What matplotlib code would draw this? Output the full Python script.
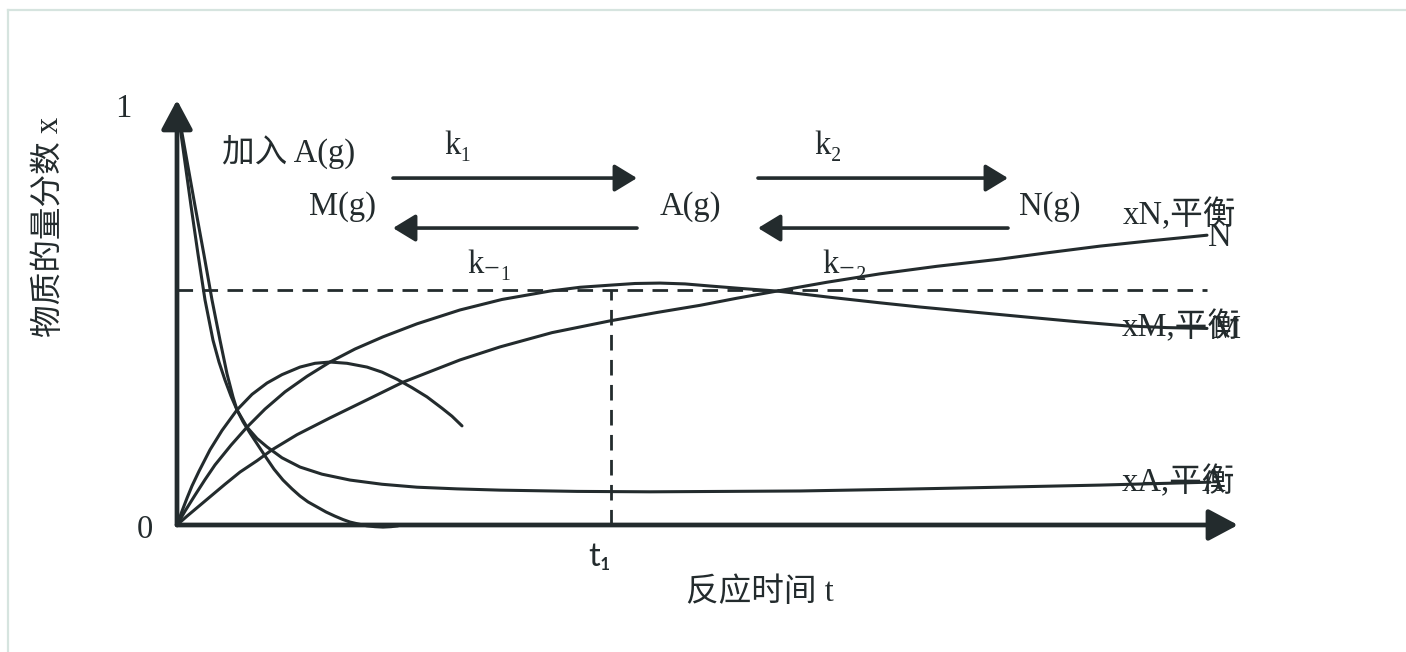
import matplotlib
matplotlib.use("Agg")
import matplotlib.pyplot as plt
from matplotlib.lines import Line2D

# reaction time t (axis units) and mole fraction x
t_a = [0, 0.07, 0.14, 0.21, 0.28, 0.36, 0.42, 0.48, 0.54, 0.60, 0.70, 0.80,
       0.90, 1.05, 1.23, 1.45, 1.73, 2.05, 2.40, 2.80, 3.23, 4.00, 4.73, 5.50,
       6.23, 7.20, 8.23, 9.23, 10.33]
x_a = [1.000, 0.880, 0.760, 0.645, 0.536, 0.440, 0.388, 0.345, 0.307, 0.274,
       0.233, 0.206, 0.186, 0.160, 0.138, 0.121, 0.107, 0.097, 0.090, 0.086,
       0.083, 0.080, 0.079, 0.080, 0.081, 0.085, 0.090, 0.095, 0.102]

t_decay = [0, 0.09, 0.18, 0.27, 0.35, 0.43, 0.50, 0.56, 0.60, 0.66, 0.73,
           0.81, 0.89, 0.97, 1.06, 1.15, 1.23, 1.31, 1.40, 1.49, 1.58, 1.66,
           1.73, 1.82, 1.90, 1.98, 2.06, 2.14, 2.21]
x_decay = [1.000, 0.880, 0.760, 0.643, 0.536, 0.440, 0.360, 0.305, 0.274,
           0.246, 0.219, 0.190, 0.161, 0.133, 0.107, 0.086, 0.069, 0.055,
           0.043, 0.031, 0.021, 0.013, 0.007, 0.002, -0.002, -0.004, -0.005,
           -0.004, -0.002]

t_hump = [0, 0.05, 0.10, 0.15, 0.22, 0.33, 0.45, 0.60, 0.75, 0.90, 1.05,
          1.23, 1.38, 1.53, 1.70, 1.90, 2.05, 2.20, 2.35, 2.50, 2.65, 2.75, 2.85]
x_hump = [0, 0.033, 0.064, 0.093, 0.128, 0.179, 0.225, 0.274, 0.311, 0.338,
          0.358, 0.376, 0.385, 0.388, 0.385, 0.376, 0.364, 0.347, 0.327,
          0.305, 0.278, 0.259, 0.236]

t_m = [0, 0.08, 0.18, 0.28, 0.38, 0.54, 0.70, 0.88, 1.08, 1.30, 1.53, 1.78,
       2.06, 2.40, 2.83, 3.25, 3.73, 4.03, 4.33, 4.58, 4.83, 5.08, 5.33, 5.65,
       6.00, 6.50, 7.03, 7.43, 7.83, 8.50, 9.00, 9.50, 9.90, 10.30]
x_m = [0, 0.033, 0.071, 0.108, 0.143, 0.190, 0.233, 0.276, 0.317, 0.354,
       0.388, 0.419, 0.448, 0.479, 0.512, 0.537, 0.557, 0.566, 0.571, 0.575,
       0.576, 0.574, 0.569, 0.563, 0.557, 0.543, 0.529, 0.519, 0.510, 0.495,
       0.484, 0.474, 0.470, 0.468]

t_n = [0, 0.10, 0.20, 0.33, 0.48, 0.63, 0.80, 0.95, 1.20, 1.53, 1.90, 2.26,
       2.55, 2.83, 3.23, 3.75, 4.33, 4.80, 5.23, 5.60, 6.00, 6.50, 7.03, 7.60,
       8.23, 8.70, 9.23, 9.75, 10.30]
x_n = [0, 0.021, 0.041, 0.067, 0.097, 0.126, 0.153, 0.179, 0.215, 0.255,
       0.298, 0.340, 0.367, 0.393, 0.424, 0.458, 0.486, 0.506, 0.523, 0.540,
       0.557, 0.578, 0.598, 0.616, 0.633, 0.648, 0.664, 0.677, 0.690]

t1 = 4.34
x_level = 0.56
t_level_end = 10.30
t_axis_end = 10.61
x_axis_end = 1.012

INK = "#232b2d"
SERIF_CJK = ["Liberation Serif", "Noto Sans CJK SC", "DejaVu Sans"]
FS = 23.5

fig = plt.figure(figsize=(14.06, 6.52), dpi=100)
ax = fig.add_axes([0, 0, 1, 1])
ax.set_xlim(-1.77, 12.29)
ax.set_ylim(-0.3024, 1.25)
ax.axis("off")

# light frame on top and left
fig.add_artist(Line2D([8 / 1406, 1], [1 - 9.5 / 652] * 2, color="#d6e4df", lw=1.6))
fig.add_artist(Line2D([8 / 1406] * 2, [0, 1 - 9.5 / 652], color="#d6e4df", lw=1.6))

# axes with arrow heads
axis_style = dict(arrowstyle="-|>,head_length=0.6,head_width=0.32", lw=3.4,
                  color=INK, mutation_scale=30, shrinkA=0, shrinkB=0)
ax.annotate("", xy=(0, x_axis_end), xytext=(0, 0), arrowprops=axis_style)
ax.annotate("", xy=(t_axis_end, 0), xytext=(0, 0), arrowprops=axis_style)

# curves
curve_kw = dict(color=INK, lw=2.2, solid_capstyle="round", solid_joinstyle="round")
for tt, xx in [(t_a, x_a), (t_decay, x_decay), (t_hump, x_hump), (t_m, x_m), (t_n, x_n)]:
    ax.plot(tt, xx, **curve_kw)

# guide lines at t1
dash = (0, (5.6, 3.4))
ax.plot([0, t_level_end], [x_level, x_level], color=INK, lw=2.0, linestyle=dash)
ax.plot([t1, t1], [0, x_level], color=INK, lw=2.0, linestyle=dash)

# reaction scheme arrows
rx_style = dict(arrowstyle="-|>,head_length=0.46,head_width=0.28", lw=2.6,
                color=INK, mutation_scale=30, shrinkA=0, shrinkB=0)
ax.annotate("", xy=(4.60, 0.826), xytext=(2.16, 0.826), arrowprops=rx_style)
ax.annotate("", xy=(2.16, 0.707), xytext=(4.60, 0.707), arrowprops=rx_style)
ax.annotate("", xy=(8.31, 0.826), xytext=(5.81, 0.826), arrowprops=rx_style)
ax.annotate("", xy=(5.81, 0.707), xytext=(8.31, 0.707), arrowprops=rx_style)


def label(x, y, s, ha="center", family=SERIF_CJK, **kw):
    ax.text(x, y, s, ha=ha, va="center", fontsize=FS, color=INK, family=family, **kw)


label(-0.54, 0.99, "1")
label(-0.32, -0.012, "0")
label(-1.27, 0.71, "物质的量分数 x", rotation=90)
label(0.45, 0.888, "加入 A(g)", ha="left")
label(2.81, 0.902, "k₁")
label(6.51, 0.902, "k₂")
label(1.66, 0.757, "M(g)")
label(5.13, 0.757, "A(g)")
label(8.73, 0.757, "N(g)")
label(3.13, 0.619, "k₋₁")
label(6.68, 0.619, "k₋₂")
# the reference overlays these end labels on purpose
label(9.46, 0.738, "xN,平衡", ha="left")
label(10.43, 0.683, "N")
label(9.45, 0.471, "xM,平衡", ha="left")
label(10.50, 0.464, "M")
label(9.45, 0.102, "xA,平衡", ha="left")
label(10.36, 0.100, "A")
label(4.23, -0.076, "t₁", family=["Lato", "DejaVu Sans"])
label(5.83, -0.162, "反应时间 t")

fig.savefig("out.png", dpi=100, facecolor="white")
